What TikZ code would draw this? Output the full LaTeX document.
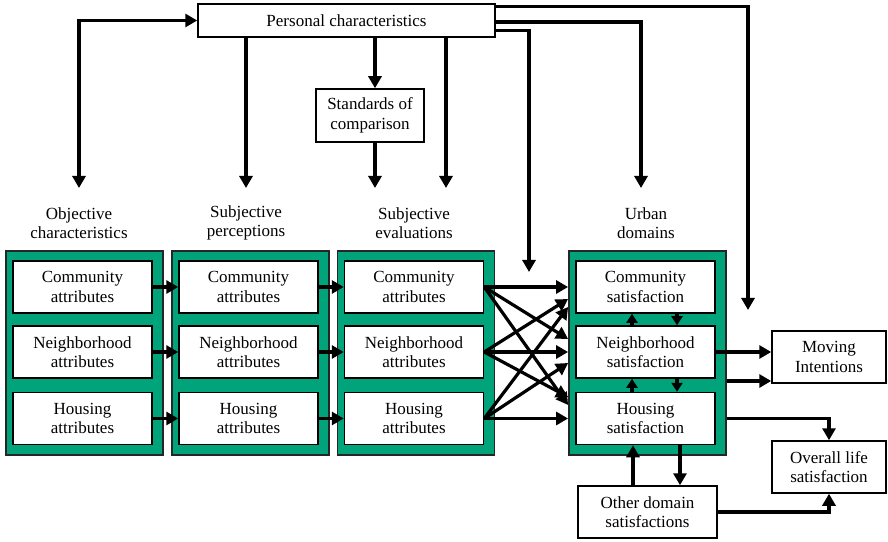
\documentclass[tikz,border=0pt]{standalone}
\usepackage{fontspec}
\setmainfont{Liberation Serif}
\usetikzlibrary{arrows.meta,calc}
\definecolor{panelgreen}{RGB}{0,163,122}
\begin{document}
\begin{tikzpicture}[x=1bp,y=-1bp,
  txt/.style={font=\fontsize{17bp}{19.5bp}\selectfont, align=center, inner sep=0pt},
  box/.style={txt, draw=black, line width=1.5bp, fill=white, minimum width=139bp, minimum height=52bp},
  panel/.style={draw=black!85, line width=1.8bp, fill=panelgreen, minimum width=157bp, minimum height=204bp, inner sep=0pt},
  arr/.style={line width=3.2bp, -{Triangle[length=12bp,width=13bp]}},
  sarr/.style={line width=3.2bp, -{Triangle[length=9bp,width=11bp]}},
  darr/.style={line width=3.2bp, {Triangle[length=12bp,width=13bp]}-{Triangle[length=12bp,width=13bp]}},
]
\useasboundingbox (0,0) rectangle (888,542);

% top boxes
\node[box, minimum width=297bp, minimum height=33bp] (pc) at (346.5,20.5) {Personal characteristics};
\node[box, minimum width=108bp, minimum height=53bp] (std) at (370,115.5) {Standards of\\comparison};

% column headings
\node[txt] (lobj) at (79,223) {Objective\\characteristics};
\node[txt] (lper) at (246,223) {Subjective\\perceptions};
\node[txt] (leva) at (414,223) {Subjective\\evaluations};
\node[txt] (lurb) at (646,223) {Urban\\domains};

% green panels
\foreach \n/\x in {1/84.5,2/250.5,3/416,4/647.5}
  \node[panel] (P\n) at (\x,353) {};

% attribute boxes
\foreach \n/\x in {1/82.5,2/248.5,3/414} {
  \node[box] (c\n) at (\x,287) {Community\\attributes};
  \node[box] (n\n) at (\x,352) {Neighborhood\\attributes};
  \node[box] (h\n) at (\x,418.5) {Housing\\attributes};
}
\node[box] (c4) at (645.5,287) {Community\\satisfaction};
\node[box] (n4) at (645.5,352) {Neighborhood\\satisfaction};
\node[box] (h4) at (645.5,418.5) {Housing\\satisfaction};

% outcome boxes
\node[box, minimum width=114bp] (mov) at (829,357) {Moving\\Intentions};
\node[box, minimum width=114bp] (ov) at (829,467) {Overall life\\satisfaction};
\node[box] (oth) at (647.5,512) {Other domain\\satisfactions};

% free ends of the arrows from the top
\coordinate (eobj) at (79,188);
\coordinate (eper) at (246,188);
\coordinate (eeva) at (375,188);
\coordinate (eeva2) at (446,188);
\coordinate (eurb) at (641,188);
\coordinate (ecross) at (529,272);
\coordinate (ewide) at (748,310);

% personal characteristics
\draw[darr] (pc.west) -| (eobj);
\draw[arr] (pc.south -| eper) -- (eper);
\draw[arr] (pc.south -| eeva) -- (eeva |- std.north);
\draw[arr] (std.south -| eeva) -- (eeva);
\draw[arr] (pc.south -| eeva2) -- (eeva2);
\draw[arr] ($(pc.north east)+(0,3)$) -| (ewide);
\draw[arr] ($(pc.east)+(0,1.5)$) -| (eurb);
\draw[arr] ($(pc.south east)+(0,-7)$) -| (ecross);

% attribute chains
\foreach \a/\b in {1/2,2/3}
  \foreach \r in {c,n,h}
    \draw[arr] (\r\a.east) -- (\r\b.west);

% evaluations to urban domains
\foreach \s/\dy in {c/-66, c/-14, c/52, n/-54, n/-1, n/44, h/-46, h/10, h/65.5}
  \draw[arr] (\s3.east) -- ($(P4.west)+(0,\dy)$);

% links between domains
\draw[sarr] ($(n4.north)+(-13.5,0)$) -- ($(c4.south)+(-13.5,0)$);
\draw[sarr] ($(c4.south)+(31.5,0)$) -- ($(n4.north)+(31.5,0)$);
\draw[sarr] ($(h4.north)+(-13.5,0)$) -- ($(n4.south)+(-13.5,0)$);
\draw[sarr] ($(n4.south)+(31.5,0)$) -- ($(h4.north)+(31.5,0)$);

% other domains
\path ($(oth.north)+(-14.5,0)$) coordinate (ou);
\path ($(oth.north)+(32.5,0)$) coordinate (od);
\draw[arr] (ou) -- (ou |- h4.south);
\draw[arr] (od |- h4.south) -- (od);

% outcomes
\draw[arr] (n4.east) -- (n4.east -| mov.west);
\path ($(P4.east)+(0,28)$) coordinate (pm);
\draw[arr] (pm) -- (pm -| mov.west);
\draw[arr] (P4.east |- h4.east) -| (ov.north);
\draw[arr] (oth.east) -| (ov.south);
\end{tikzpicture}
\end{document}
